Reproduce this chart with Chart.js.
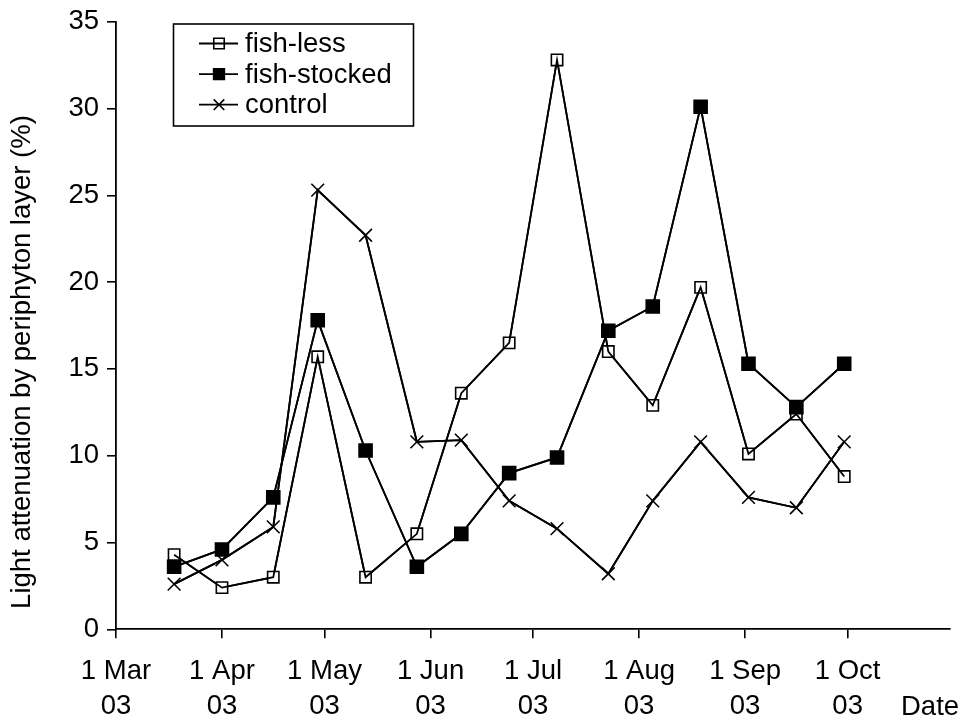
<!DOCTYPE html>
<html>
<head>
<meta charset="utf-8">
<script src="https://cdn.jsdelivr.net/npm/chart.js@4/dist/chart.umd.min.js"></script>
<style>
  html, body { margin: 0; padding: 0; background: #fff; }
  #wrap { width: 961px; height: 722px; }
</style>
</head>
<body>
<div id="wrap"><canvas id="chart" width="961" height="722"></canvas></div>
<script>
// Sampling dates (2003) and light attenuation by the periphyton layer (%)
const sampleDates = ['2003-03-18', '2003-04-01', '2003-04-16', '2003-04-29', '2003-05-13',
                     '2003-05-28', '2003-06-10', '2003-06-24', '2003-07-08', '2003-07-23',
                     '2003-08-05', '2003-08-19', '2003-09-02', '2003-09-16', '2003-09-30'];
const fishLess    = [4.3, 2.4, 3.0, 15.7, 3.0, 5.5, 13.6, 16.5, 32.8, 16.0, 12.9, 19.7, 10.1, 12.4, 8.8];
const fishStocked = [3.6, 4.6, 7.6, 17.8, 10.3, 3.6, 5.5, 9.0, 9.9, 17.2, 18.6, 30.1, 15.3, 12.8, 15.3];
const control     = [2.6, 4.0, 5.9, 25.3, 22.7, 10.8, 10.9, 7.4, 5.8, 3.2, 7.4, 10.8, 7.6, 7.0, 10.8];

// Date axis: month ticks and their two-line labels
const axisStart  = '2003-03-01';
const axisEnd    = '2003-10-31';
const monthTicks = ['2003-03-01', '2003-04-01', '2003-05-01', '2003-06-01',
                    '2003-07-01', '2003-08-01', '2003-09-01', '2003-10-01'];
const monthLabels = ['1 Mar', '1 Apr', '1 May', '1 Jun', '1 Jul', '1 Aug', '1 Sep', '1 Oct'];
const yearLabel = '03';
const xAxisName = 'Date';

// Value axis
const yMin = 0, yMax = 35, yStep = 5;
const yAxisName = 'Light attenuation by periphyton layer (%)';

const FONT = "'Liberation Sans', Arial, Helvetica, sans-serif";
const FONT_SIZE = 27.5;
const DAY_MS = 86400000;
const LINE_W = 1.8;

function isoToUTC(iso) {
  const [y, m, d] = iso.split('-').map(Number);
  return Date.UTC(y, m - 1, d);
}
const origin = isoToUTC(axisStart);
const dayOf = iso => (isoToUTC(iso) - origin) / DAY_MS;

const tickDays = monthTicks.map(dayOf);
const toPoints = values => values.map((v, i) => ({ x: dayOf(sampleDates[i]), y: v }));

const baseLine = {
  borderColor: '#000',
  borderWidth: LINE_W,
  pointBorderColor: '#000',
  pointBorderWidth: 1.6,
  tension: 0,
  fill: false
};

// order: filled squares sit above the open ones
const datasets = [
  Object.assign({}, baseLine, {
    label: 'fish-less', data: toPoints(fishLess), order: 1,
    pointStyle: 'rect', pointRadius: 8, pointBackgroundColor: '#fff',
    legendRadius: 7.4
  }),
  Object.assign({}, baseLine, {
    label: 'fish-stocked', data: toPoints(fishStocked), order: 0,
    pointStyle: 'rect', pointRadius: 9.2, pointBackgroundColor: '#000',
    legendRadius: 7.6
  }),
  Object.assign({}, baseLine, {
    label: 'control', data: toPoints(control), order: 2,
    pointStyle: 'crossRot', pointRadius: 9, pointBackgroundColor: '#000',
    legendRadius: 7.5
  })
];

// Connecting lines are stroked over the markers
const linesOnTop = {
  id: 'linesOnTop',
  afterDatasetsDraw(chart) {
    const ctx = chart.ctx;
    ctx.save();
    chart.getSortedVisibleDatasetMetas().slice().reverse().forEach(meta => {
      if (meta.dataset) meta.dataset.draw(ctx, chart.chartArea);
    });
    ctx.restore();
  }
};

// Boxed legend, rotated value-axis name and the "Date" caption
const captions = {
  id: 'captions',
  afterDraw(chart) {
    const ctx = chart.ctx;
    const area = chart.chartArea;
    ctx.save();

    // legend frame
    const box = { x: 173.5, y: 24, w: 240, h: 102 };
    ctx.lineWidth = 1.6;
    ctx.strokeStyle = '#000';
    ctx.strokeRect(box.x, box.y, box.w, box.h);

    ctx.font = `${FONT_SIZE}px ${FONT}`;
    ctx.textBaseline = 'middle';
    ctx.textAlign = 'left';
    chart.data.datasets.forEach((ds, i) => {
      const y = 43.5 + i * 30.6;
      ctx.fillStyle = ds.pointBackgroundColor;
      ctx.strokeStyle = ds.pointBorderColor;
      ctx.lineWidth = ds.pointBorderWidth;
      Chart.helpers.drawPoint(ctx, {
        pointStyle: ds.pointStyle,
        radius: ds.legendRadius,
        rotation: 0,
        borderWidth: ds.pointBorderWidth
      }, 219, y);
      ctx.strokeStyle = ds.borderColor;
      ctx.lineWidth = ds.borderWidth;
      ctx.beginPath();
      ctx.moveTo(199, y);
      ctx.lineTo(238, y);
      ctx.stroke();
      ctx.fillStyle = '#000';
      ctx.fillText(ds.label, 245, y + 1);
    });

    // value-axis name
    ctx.save();
    ctx.translate(22.5, 362);
    ctx.rotate(-Math.PI / 2);
    ctx.textAlign = 'center';
    ctx.textBaseline = 'middle';
    ctx.fillStyle = '#000';
    ctx.fillText(yAxisName, 0, 0);
    ctx.restore();

    // date-axis name, level with the year row of the tick labels
    ctx.textAlign = 'left';
    ctx.textBaseline = 'middle';
    ctx.fillStyle = '#000';
    ctx.fillText(xAxisName, 901, area.bottom + 78);

    ctx.restore();
  }
};

new Chart(document.getElementById('chart'), {
  type: 'line',
  data: { datasets },
  options: {
    responsive: false,
    animation: false,
    devicePixelRatio: 1,
    layout: { padding: { top: 20.7, right: 6, bottom: 0, left: 0 } },
    plugins: {
      legend: { display: false },
      tooltip: { enabled: false },
      title: { display: false }
    },
    scales: {
      x: {
        type: 'linear',
        min: dayOf(axisStart),
        max: dayOf(axisEnd),
        afterBuildTicks: scale => { scale.ticks = tickDays.map(v => ({ value: v })); },
        afterFit: scale => { scale.height = 92.7; },
        grid: { display: true, drawOnChartArea: false, drawTicks: true, tickLength: 9, color: '#000', lineWidth: 1.6 },
        border: { display: true, color: '#000', width: 1.8 },
        ticks: {
          autoSkip: false,
          maxRotation: 0,
          minRotation: 0,
          padding: 16,
          color: '#000',
          font: { family: FONT, size: FONT_SIZE, lineHeight: 35 / FONT_SIZE },
          callback: value => {
            const i = tickDays.indexOf(value);
            return i >= 0 ? [monthLabels[i], yearLabel] : '';
          }
        }
      },
      y: {
        type: 'linear',
        min: yMin,
        max: yMax,
        afterFit: scale => { scale.width = 116; },
        grid: { display: true, drawOnChartArea: false, drawTicks: true, tickLength: 9, color: '#000', lineWidth: 1.6 },
        border: { display: true, color: '#000', width: 1.8 },
        ticks: {
          stepSize: yStep,
          padding: 8,
          color: '#000',
          font: { family: FONT, size: FONT_SIZE, lineHeight: 1 }
        }
      }
    }
  },
  plugins: [linesOnTop, captions]
});
</script>
</body>
</html>
